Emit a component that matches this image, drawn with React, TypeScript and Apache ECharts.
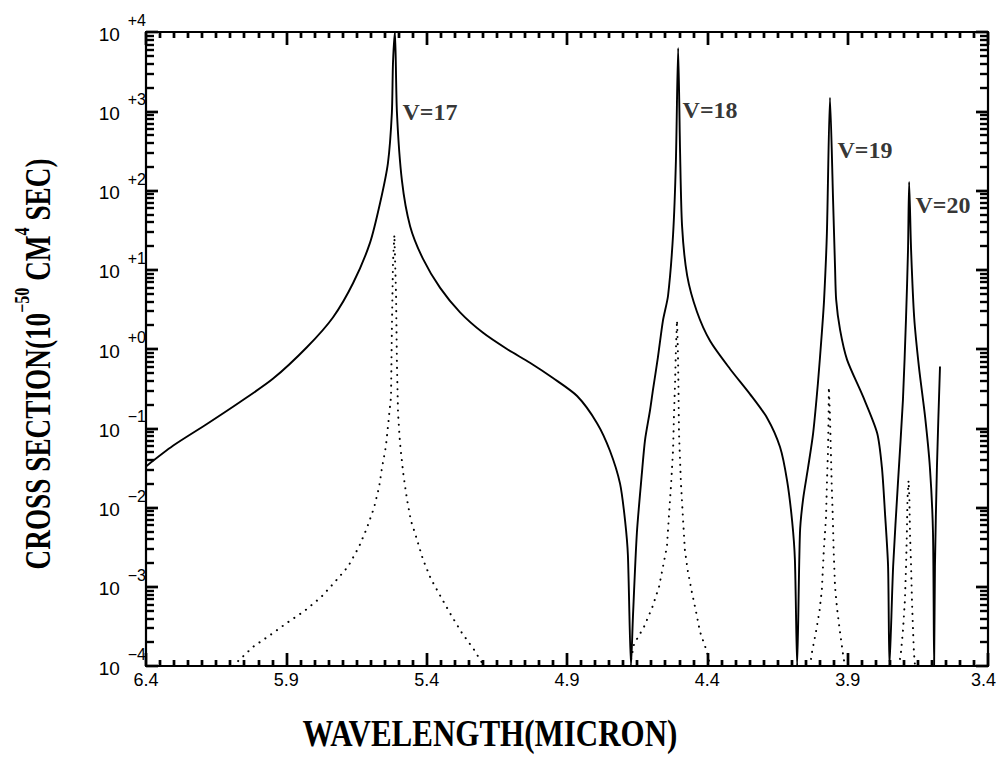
import React, { useEffect, useRef } from 'react';
import * as echarts from 'echarts';

// ---- tick labels ----
const X_TICK_LABELS = ['6.4', '5.9', '5.4', '4.9', '4.4', '3.9', '3.4'];
const Y_EXPONENTS = ['−4', '−3', '−2', '−1', '+0', '+1', '+2', '+3', '+4'];

// ---- solid curve (total cross section) ----
const SOLID_WAVELENGTH = [
  6.400, 6.304, 6.183, 6.065, 5.948, 5.826, 5.734, 5.662, 5.602, 5.566, 5.538, 5.524, 5.520, 5.513,
  5.506, 5.488, 5.459, 5.413, 5.352, 5.281, 5.199, 5.114, 5.032, 4.950, 4.864, 4.793, 4.747, 4.711,
  4.693, 4.683, 4.672,
  4.665, 4.651, 4.633, 4.622, 4.604, 4.594, 4.576, 4.558, 4.540, 4.522, 4.512, 4.504,
  4.497, 4.490, 4.472, 4.437, 4.390, 4.319, 4.248, 4.187, 4.141, 4.116, 4.098, 4.088, 4.080,
  4.070, 4.059, 4.041, 4.023, 4.006, 3.992, 3.984, 3.974, 3.963,
  3.952, 3.945, 3.941, 3.927, 3.902, 3.845, 3.795, 3.778, 3.767, 3.756, 3.751,
  3.738, 3.721, 3.703, 3.692, 3.685, 3.681,
  3.674, 3.663, 3.646, 3.624, 3.607, 3.596, 3.592,
  3.589, 3.582, 3.571,
];
const SOLID_SIGMA = [
  0.033, 0.060, 0.113, 0.214, 0.42, 1.06, 2.5, 6.8, 21.8, 69.5, 222, 950, 4060, 10000,
  980, 132, 35.5, 13.7, 5.9, 2.9, 1.6, 1.0, 0.67, 0.43, 0.255, 0.116, 0.052, 0.020,
  0.0068, 0.0025, 0.0001,
  0.00042, 0.0048, 0.0275, 0.071, 0.17, 0.30, 0.79, 2.3, 4.7, 28, 234, 6300,
  295, 35.5, 8.5, 2.95, 1.26, 0.56, 0.27, 0.135, 0.058, 0.022, 0.0068, 0.0022, 0.0001,
  0.0048, 0.0126, 0.032, 0.087, 0.37, 1.6, 4.2, 29, 1480,
  76, 10.8, 4.2, 1.74, 0.73, 0.25, 0.087, 0.032, 0.0085, 0.0018, 0.0001,
  0.0018, 0.020, 0.23, 2.5, 17.7, 128,
  17.7, 2.5, 0.59, 0.138, 0.032, 0.0048, 0.0001,
  0.0018, 0.032, 0.6,
];

// ---- dotted curves (single resonances) ----
const DOT17_WAVELENGTH = [
  6.090, 6.019, 5.958, 5.898, 5.837, 5.776, 5.727, 5.680, 5.641, 5.613, 5.588, 5.570, 5.559, 5.545,
  5.538, 5.527, 5.524, 5.520, 5.515, 5.509, 5.506, 5.502, 5.495, 5.484, 5.470, 5.456, 5.442, 5.413,
  5.385, 5.349, 5.313, 5.274, 5.231, 5.203,
];
const DOT17_SIGMA = [
  1e-4, 1.74e-4, 2.45e-4, 3.5e-4, 4.9e-4, 7.4e-4, 1.15e-3, 1.8e-3, 3.2e-3, 5.5e-3, 9.8e-3, 0.0178, 0.032, 0.060,
  0.105, 0.25, 1.74, 12.3, 27.6, 4.6, 0.66, 0.155, 0.065, 0.028, 0.0126, 0.0068, 0.0048, 0.0022,
  0.00126, 7.4e-4, 4.4e-4, 2.6e-4, 1.6e-4, 1.1e-4,
];
const DOT18_WAVELENGTH = [
  4.676, 4.661, 4.626, 4.597, 4.572, 4.558, 4.544, 4.537, 4.529, 4.522, 4.519, 4.515, 4.512, 4.508,
  4.505, 4.503, 4.501, 4.494, 4.487, 4.480, 4.469, 4.455, 4.440, 4.426, 4.401, 4.390,
];
const DOT18_SIGMA = [
  1e-4, 1.9e-4, 3.1e-4, 5.4e-4, 1e-3, 1.8e-3, 3.2e-3, 7.6e-3, 0.020, 0.054, 0.14, 0.37, 0.98, 2.3,
  0.98, 0.37, 0.087, 0.020, 7.6e-3, 2.9e-3, 1.55e-3, 8.5e-4, 4.8e-4, 2.7e-4, 1.5e-4, 1e-4,
];
const DOT19_WAVELENGTH = [
  4.034, 4.027, 4.013, 4.000, 3.992, 3.985, 3.977, 3.974, 3.970, 3.968, 3.967,
  3.963, 3.960, 3.957, 3.953, 3.950, 3.945, 3.938, 3.928, 3.917, 3.910,
];
const DOT19_SIGMA = [
  1e-4, 1.5e-4, 2.7e-4, 5.1e-4, 9.1e-4, 2.9e-3, 7.6e-3, 0.020, 0.054, 0.14, 0.33,
  0.14, 0.054, 0.020, 7.6e-3, 2.9e-3, 1e-3, 5.4e-4, 2.8e-4, 1.45e-4, 1e-4,
];
const DOT20_WAVELENGTH = [
  3.717, 3.710, 3.703, 3.696, 3.692, 3.689, 3.687, 3.683, 3.680, 3.678, 3.674, 3.671, 3.667, 3.664, 3.660,
];
const DOT20_SIGMA = [
  1e-4, 1.5e-4, 2.8e-4, 6.8e-4, 1.8e-3, 4.8e-3, 0.0126, 0.022, 0.0126, 4.8e-3, 1.8e-3, 6.8e-4, 2.8e-4, 1.5e-4, 1e-4,
];

// ---- resonance annotations ----
const PEAK_LABELS = ['V=17', 'V=18', 'V=19', 'V=20'];
const PEAK_LABEL_WAVELENGTH = [5.488, 4.490, 3.938, 3.660];
const PEAK_LABEL_SIGMA = [980, 1040, 324, 65.6];

const LAMBDA_START = 6.4;
const X_SPAN = 3;
const Y_MIN = 1e-4;
const Y_MAX = 1e4;
const toX = (w: number) => +(LAMBDA_START - w).toFixed(4);
const pairs = (ws: number[], ss: number[]) => ws.map((w, i) => [toX(w), ss[i]]);

// grid geometry (pixels)
const GRID = { left: 146, right: 11, top: 32, bottom: 91 };
const PLOT_W = 999 - GRID.left - GRID.right;
const PLOT_H = 757 - GRID.top - GRID.bottom;
const DEC = Math.log10(Y_MAX) - Math.log10(Y_MIN);

// tick positions (axis furniture, not data)
const X_TICKS: number[] = [];
for (let i = 0; i <= 60; i++) X_TICKS.push(+(i * 0.05).toFixed(2));
const Y_TICKS: number[] = [];
const Y_TICK_MAJOR: boolean[] = [];
for (let e = -4; e <= 4; e++) {
  for (let k = 1; k <= 9; k++) {
    if (e === 4 && k > 1) break;
    Y_TICKS.push(k * Math.pow(10, e));
    Y_TICK_MAJOR.push(k === 1);
  }
}

function buildTickSegments(): any[] {
  const segs: any[] = [];
  const dyFactor = (px: number) => Math.pow(10, (px * DEC) / PLOT_H);
  const dx = (px: number) => (px * X_SPAN) / PLOT_W;
  X_TICKS.forEach((x, i) => {
    const len = i % 10 === 0 ? 13 : 6;
    segs.push({ coords: [[x, Y_MIN], [x, Y_MIN * dyFactor(len)]] });
    segs.push({ coords: [[x, Y_MAX], [x, Y_MAX / dyFactor(len)]] });
  });
  Y_TICKS.forEach((v, i) => {
    const len = Y_TICK_MAJOR[i] ? 12 : 8;
    segs.push({ coords: [[0, v], [dx(len), v]] });
    segs.push({ coords: [[X_SPAN, v], [X_SPAN - dx(len), v]] });
  });
  return segs;
}

const SANS = "'Liberation Sans', Arial, Helvetica, sans-serif";
const SERIF = "'Liberation Serif', 'Times New Roman', serif";
const TICK_W = 2.4;

function buildOption(): any {
  const tickStyle = { color: '#000', width: TICK_W, opacity: 1 };
  const xCommon = {
    type: 'value',
    min: 0,
    max: X_SPAN,
    interval: 0.5,
    axisLine: { show: true, onZero: false, lineStyle: { color: '#000', width: 2.2 } },
    axisTick: { show: true, inside: true, length: 13, lineStyle: tickStyle },
    minorTick: { show: true, splitNumber: 10, length: 6, lineStyle: tickStyle },
    splitLine: { show: false },
    minorSplitLine: { show: false },
  };
  const yCommon = {
    type: 'log',
    logBase: 10,
    min: Y_MIN,
    max: Y_MAX,
    splitNumber: 8,
    axisLine: { show: true, onZero: false, lineStyle: { color: '#000', width: 2.2 } },
    axisTick: { show: true, inside: true, length: 12, lineStyle: tickStyle },
    minorTick: { show: false },
    splitLine: { show: false },
  };
  const dotted = (ws: number[], ss: number[]) => ({
    type: 'line',
    data: pairs(ws, ss),
    showSymbol: false,
    symbol: 'none',
    silent: true,
    lineStyle: { color: '#000', width: 2, type: [0.1, 7], cap: 'round' },
    z: 2,
  });

  return {
    animation: false,
    backgroundColor: '#fff',
    grid: { ...GRID, containLabel: false, outerBoundsMode: 'none' },
    xAxis: [
      {
        ...xCommon,
        position: 'bottom',
        axisLabel: {
          show: true,
          color: '#000',
          fontFamily: SANS,
          fontSize: 18,
          margin: 5,
          formatter: (v: number) => {
            const i = Math.round(v / 0.5);
            const t = X_TICK_LABELS[i] ?? '';
            return i === X_TICK_LABELS.length - 1 ? `{r|${t}}` : t;
          },
          rich: {
            r: { fontFamily: SANS, fontSize: 18, color: '#000', padding: [0, 9, 0, 0] },
          },
        },
      },
      { ...xCommon, position: 'top', axisLabel: { show: false } },
    ],
    yAxis: [
      {
        ...yCommon,
        position: 'left',
        axisLabel: {
          show: true,
          margin: 0,
          formatter: (v: number) => {
            const e = Math.round(Math.log10(v));
            return `{b|10}{s|${Y_EXPONENTS[e + 4] ?? ''}}`;
          },
          rich: {
            b: { fontFamily: SANS, fontSize: 19, color: '#000', padding: [12, 0, 8, 0] },
            s: { fontFamily: SANS, fontSize: 16, color: '#000', verticalAlign: 'top', padding: [0, 0, 0, 8] },
          },
        },
      },
      { ...yCommon, position: 'right', axisLabel: { show: false } },
    ],
    series: [
      {
        type: 'line',
        data: pairs(SOLID_WAVELENGTH, SOLID_SIGMA),
        showSymbol: false,
        symbol: 'none',
        smooth: 0.25,
        silent: true,
        lineStyle: { color: '#000', width: 1.9 },
        z: 3,
      },
      dotted(DOT17_WAVELENGTH, DOT17_SIGMA),
      dotted(DOT18_WAVELENGTH, DOT18_SIGMA),
      dotted(DOT19_WAVELENGTH, DOT19_SIGMA),
      dotted(DOT20_WAVELENGTH, DOT20_SIGMA),
      {
        type: 'lines',
        coordinateSystem: 'cartesian2d',
        polyline: false,
        silent: true,
        clip: false,
        data: buildTickSegments(),
        lineStyle: { color: '#000', width: TICK_W, opacity: 1, curveness: 0 },
        effect: { show: false },
        z: 6,
      },
      {
        type: 'scatter',
        silent: true,
        symbol: 'circle',
        symbolSize: 1,
        itemStyle: { color: 'rgba(0,0,0,0)' },
        data: PEAK_LABELS.map((name, i) => ({
          name,
          value: [toX(PEAK_LABEL_WAVELENGTH[i]), PEAK_LABEL_SIGMA[i]],
        })),
        label: {
          show: true,
          position: 'right',
          distance: 0,
          formatter: (p: any) => p.name,
          fontFamily: SERIF,
          fontWeight: 'bold',
          fontSize: 24,
          color: '#000',
        },
        labelLayout: { hideOverlap: false },
        z: 5,
      },
    ],
    graphic: [
      {
        type: 'text',
        x: 34,
        y: 364,
        rotation: Math.PI / 2,
        scaleX: 0.94,
        scaleY: 1.2,
        style: {
          text: '{t|CROSS SECTION(10}{s|−50}{t| CM}{s|4}{t| SEC)}',
          align: 'center',
          verticalAlign: 'middle',
          fill: '#000',
          rich: {
            t: { fontFamily: SERIF, fontWeight: 'bold', fontSize: 29, fill: '#000', padding: [7, 0, 0, 0] },
            s: { fontFamily: SERIF, fontWeight: 'bold', fontSize: 17, fill: '#000', verticalAlign: 'top' },
          },
        },
      },
      {
        type: 'text',
        x: 490,
        y: 733,
        scaleY: 1.2,
        style: {
          text: 'WAVELENGTH(MICRON)',
          fontFamily: SERIF,
          fontWeight: 'bold',
          fontSize: 31,
          fill: '#000',
          align: 'center',
          verticalAlign: 'middle',
        },
      },
    ],
  };
}

export default function App() {
  const ref = useRef<HTMLDivElement>(null);
  useEffect(() => {
    if (!ref.current) return;
    const chart = echarts.init(ref.current, null, { renderer: 'svg' });
    chart.setOption(buildOption());
    return () => chart.dispose();
  }, []);
  return (
    <div
      ref={ref}
      style={{ position: 'fixed', left: 0, top: 0, width: 999, height: 757, background: '#fff' }}
    />
  );
}
